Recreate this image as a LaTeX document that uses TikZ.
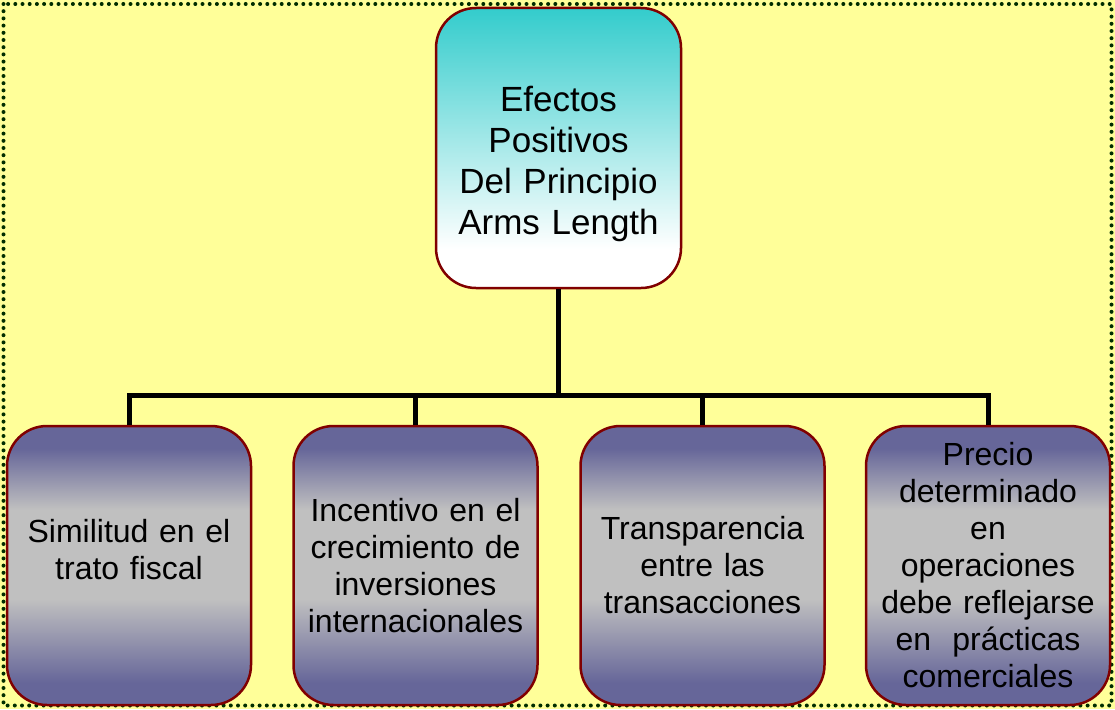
\documentclass[tikz,border=0pt]{standalone}
\usepackage{fontspec}
\setmainfont{Liberation Sans}
\definecolor{bgyellow}{RGB}{255,255,153}
\definecolor{dotgreen}{RGB}{0,45,0}
\definecolor{topteal}{RGB}{51,204,204}
\definecolor{bluegrey}{RGB}{102,102,153}
\definecolor{silvergrey}{RGB}{192,192,192}
\definecolor{framered}{RGB}{128,0,0}
\pgfdeclareverticalshading{topshade}{100bp}{color(0bp)=(white); color(32bp)=(white); color(75bp)=(topteal); color(100bp)=(topteal)}
\pgfdeclareverticalshading{lowshade}{100bp}{color(0bp)=(bluegrey); color(29bp)=(bluegrey); color(44bp)=(silvergrey); color(60bp)=(silvergrey); color(71bp)=(bluegrey); color(100bp)=(bluegrey)}
\tikzset{
  topbox/.style={draw=framered, line width=2.5pt, rounded corners=40pt, shading=topshade,
    minimum width=245pt, minimum height=280pt, inner sep=0pt, text width=236pt, align=center,
    font=\fontsize{35pt}{41pt}\selectfont},
  lowbox/.style={draw=framered, line width=2.5pt, rounded corners=40pt, shading=lowshade,
    minimum width=244pt, minimum height=279pt, inner sep=0pt, text width=236pt, align=center,
    font=\fontsize{32pt}{37pt}\selectfont},
  link/.style={draw=black, line width=5pt, line join=miter}
}
\begin{document}
\begin{tikzpicture}[x=1pt,y=-1pt]
\path[fill=bgyellow, use as bounding box] (0,0) rectangle (1115,709);
\draw[dotgreen, line width=4pt, line cap=round, dash pattern=on 0pt off 7.2pt] (3.5,4) rectangle (1111.5,705.5);

\node[topbox] (top) at (558.5,148) {\rule{0pt}{57pt}Efectos\\Positivos\\Del Principio\\Arms Length};
\node[lowbox] (b1) at (129,565.5) {Similitud en el\\trato fiscal\\[-5pt]\mbox{}};
\node[lowbox] (b2) at (415.5,565.5) {Incentivo en el\\crecimiento de\\inversiones\\internacionales};
\node[lowbox] (b3) at (702.5,565.5) {Transparencia\\entre las\\transacciones};
\node[lowbox] (b4) at (988,565.5) {Precio\\determinado\\en\\operaciones\\debe reflejarse\\en~~prácticas\\comerciales};

\coordinate (hub) at (558.5,395);
\draw[link] (top.south) -- (hub);
\draw[link] (hub) -| (b1.north);
\draw[link] (hub) -| (b2.north);
\draw[link] (hub) -| (b3.north);
\draw[link] (hub) -| (b4.north);
\end{tikzpicture}
\end{document}
